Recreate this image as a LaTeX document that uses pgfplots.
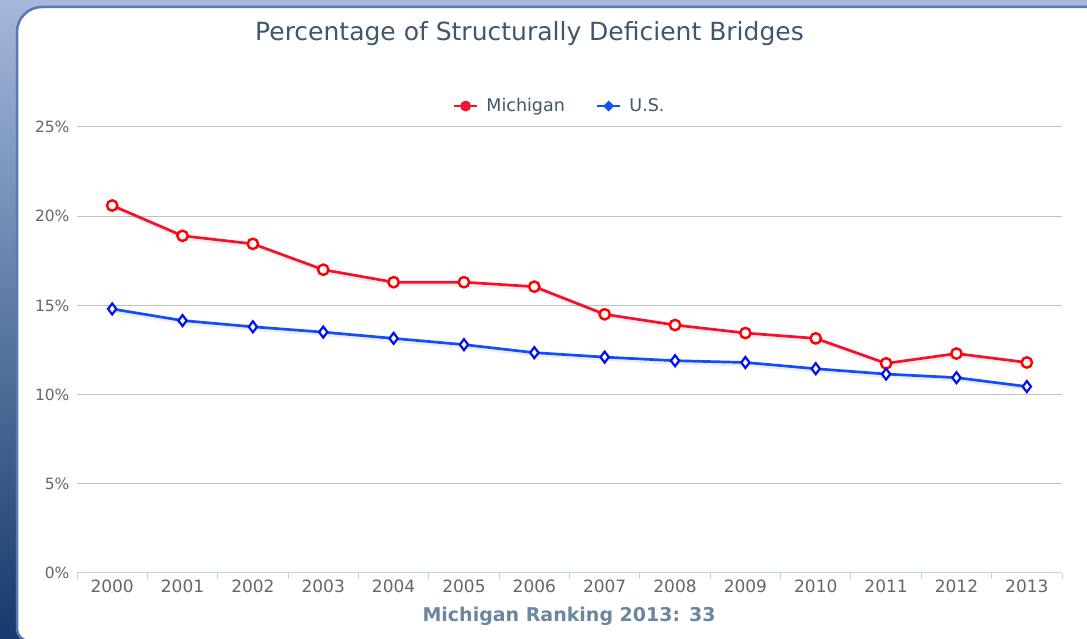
\documentclass[border=0pt]{standalone}
\usepackage{pgfplots}
\usepackage{pgfplotstable}
\pgfplotsset{compat=1.18}
\usepackage{fontspec}
\setmainfont{DejaVu Sans}

\definecolor{titlecol}{HTML}{3E576F}
\definecolor{labcol}{HTML}{666666}
\definecolor{axtitle}{HTML}{6D869F}
\definecolor{gridcol}{HTML}{C0C0C0}
\definecolor{axisblue}{HTML}{C0D0E0}
\definecolor{mired}{HTML}{F5102E}
\definecolor{usblue}{HTML}{1050F5}
\definecolor{mkblue}{HTML}{0010F0}
\definecolor{bandtop}{HTML}{A3B8DA}
\definecolor{bandedge}{HTML}{5877AE}

% percent of structurally deficient bridges
\pgfplotstableread{
yr  pct
0   20.6
1   18.9
2   18.45
3   17.0
4   16.3
5   16.3
6   16.05
7   14.5
8   13.9
9   13.45
10  13.15
11  11.75
12  12.3
13  11.8
}\michigan

\pgfplotstableread{
yr  pct
0   14.8
1   14.15
2   13.8
3   13.5
4   13.15
5   12.8
6   12.35
7   12.1
8   11.9
9   11.8
10  11.45
11  11.15
12  10.95
13  10.45
}\usdata

\begin{document}
\begin{tikzpicture}[x=1pt,y=1pt]
\path[use as bounding box] (0,0) rectangle (1087,639);
% page background and card
\begin{scope}
\clip (0,0) rectangle (1087,639);
\fill[bandtop] (0,0) rectangle (1087,639);
\shade[top color=bandtop, middle color={rgb,255:red,60;green,103;blue,166}, bottom color={rgb,255:red,22;green,58;blue,108}] (0,0) rectangle (30,639);
\filldraw[fill=white, draw=bandedge, line width=2.5pt]
  (1100,632) -- (42,632) arc[start angle=90, end angle=180, radius=25]
  -- (17,10) arc[start angle=180, end angle=270, radius=12] -- (1100,-2) -- cycle;
\end{scope}

\node[text=titlecol, font=\fontsize{25}{30}\selectfont] at (529.5,605) {Percentage of Structurally Deficient Bridges};

\begin{axis}[
    at={(77pt,66pt)}, anchor=south west,
    scale only axis,
    width=985pt, height=446pt,
    xmin=-0.5, xmax=13.5,
    ymin=0, ymax=25,
    axis line style={draw=none},
    xtick={0,...,13},
    xticklabels={2000,2001,2002,2003,2004,2005,2006,2007,2008,2009,2010,2011,2012,2013},
    xtick pos=bottom,
    major tick length=0pt,
    extra x ticks={-0.5,0.5,...,13.5},
    extra x tick labels={},
    extra x tick style={major tick length=6pt, tick align=outside, tick style={axisblue, line width=1pt}, grid=none},
    ytick={0,5,...,25},
    yticklabel={\pgfmathprintnumber{\tick}\%},
    ymajorgrids,
    grid style={gridcol, line width=1pt},
    tick label style={text=labcol},
    xticklabel style={yshift=-3pt, font=\fontsize{17}{20}\selectfont},
    yticklabel style={xshift=-4pt, font=\fontsize{15.5}{18}\selectfont},
    /pgf/number format/assume math mode=true,
    legend style={at={(0.49,1.047)}, anchor=center, draw=none, fill=none,
        font=\fontsize{17.5}{20}\selectfont, text=titlecol, legend columns=2,
        /tikz/every odd column/.append style={column sep=6pt},
        /tikz/every even column/.append style={column sep=29pt}},
    legend cell align=left,
]
\draw[axisblue, line width=1.2pt] (rel axis cs:0,0) -- (rel axis cs:1,0);

% soft shadows under the lines
\addplot[black, opacity=0.07, line width=5pt, xshift=1pt, yshift=-1.5pt, forget plot] table[x=yr,y=pct] {\michigan};
\addplot[black, opacity=0.07, line width=5pt, xshift=1pt, yshift=-1.5pt, forget plot] table[x=yr,y=pct] {\usdata};

\addplot[mired, line width=2.7pt, mark=*, mark size=5.2pt,
    mark options={fill=white, draw=red, line width=2.4pt},
    legend image code/.code={
        \draw[mired, line width=2.6pt] (0pt,0pt) -- (23pt,0pt);
        \fill[mired] (11.5pt,0pt) circle (4pt);}
    ] table[x=yr,y=pct] {\michigan};
\addlegendentry{Michigan}

\addplot[usblue, line width=2.7pt, mark=diamond*, mark size=5.5pt,
    mark options={fill=white, draw=mkblue, line width=2.2pt},
    legend image code/.code={
        \draw[usblue, line width=2.6pt] (0pt,0pt) -- (23pt,0pt);
        \fill[usblue] (11.5pt,-3.5pt) -- (15pt,0pt) -- (11.5pt,3.5pt) -- (8pt,0pt) -- cycle;}
    ] table[x=yr,y=pct] {\usdata};
\addlegendentry{U.S.}
\end{axis}

\node[text=axtitle, font=\bfseries\fontsize{19}{22}\selectfont] at (569,23) {Michigan Ranking 2013: 33};
\end{tikzpicture}
\end{document}
